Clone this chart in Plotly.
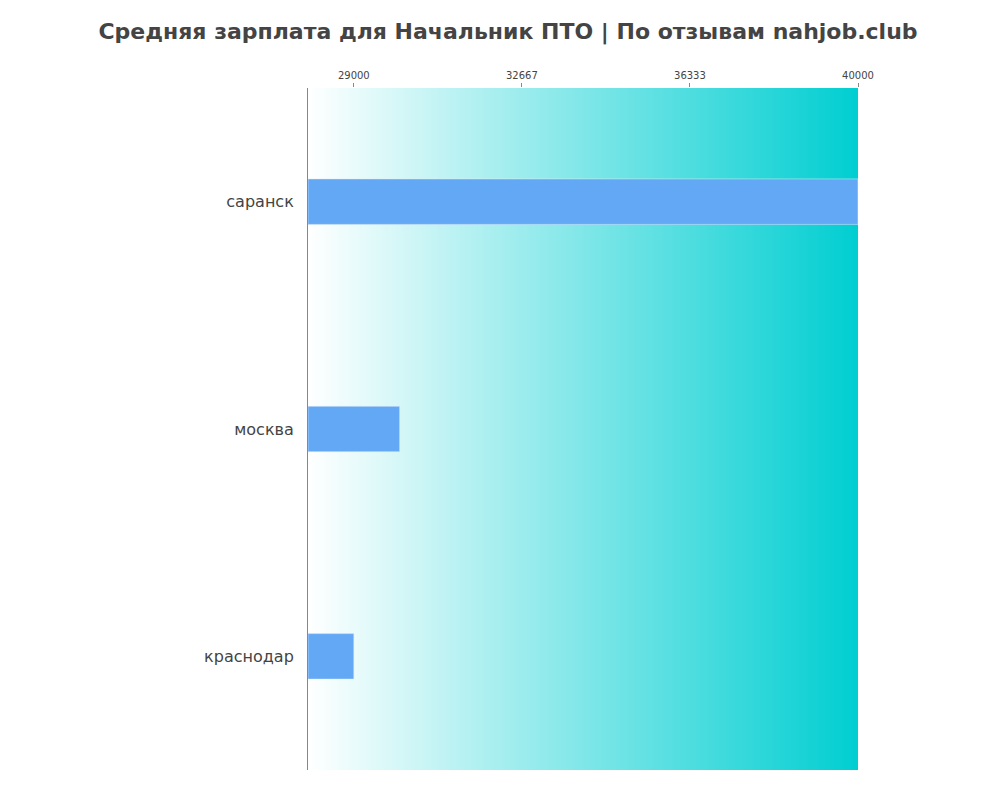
import numpy as np
import plotly.graph_objects as go

cities = ["саранск", "москва", "краснодар"]
salaries = [40000, 30000, 29000]
tick_vals = [29000, 32667, 36333, 40000]
x_min, x_max = 28000, 40000

fig = go.Figure()

# gradient background via heatmap
gx = np.linspace(x_min, x_max, 200)
fig.add_trace(go.Heatmap(
    x=gx, y=[-0.5, 2.5], z=[gx, gx],
    colorscale=[[0, "#ffffff"], [1, "#00ced1"]],
    showscale=False, hoverinfo="skip", zsmooth="best"))

fig.add_trace(go.Bar(
    x=[s - x_min for s in salaries], base=x_min, y=list(range(len(cities))),
    orientation="h", width=0.2, marker_color="#63a8f5"))

fig.update_layout(
    width=1000, height=800,
    title=dict(text="<b>Средняя зарплата для Начальник ПТО | По отзывам nahjob.club</b>",
               x=0.5, y=0.98, font=dict(size=22, color="#444", family="DejaVu Sans")),
    font=dict(family="DejaVu Sans", color="#444"),
    paper_bgcolor="white", plot_bgcolor="white",
    margin=dict(l=300, r=150, t=80, b=38),
    showlegend=False,
    xaxis=dict(range=[x_min, x_max], side="top", tickvals=tick_vals,
               ticktext=[str(v) for v in tick_vals], tickfont=dict(size=10),
               ticks="outside", ticklen=4, tickcolor="#888", showgrid=False, zeroline=False),
    yaxis=dict(range=[2.5, -0.5], tickvals=[0, 1, 2], ticktext=cities,
               tickfont=dict(size=16), showline=True, linecolor="#888",
               showgrid=False, zeroline=False, ticks="", ticklabelstandoff=10),
)

fig.write_html("out.html")
